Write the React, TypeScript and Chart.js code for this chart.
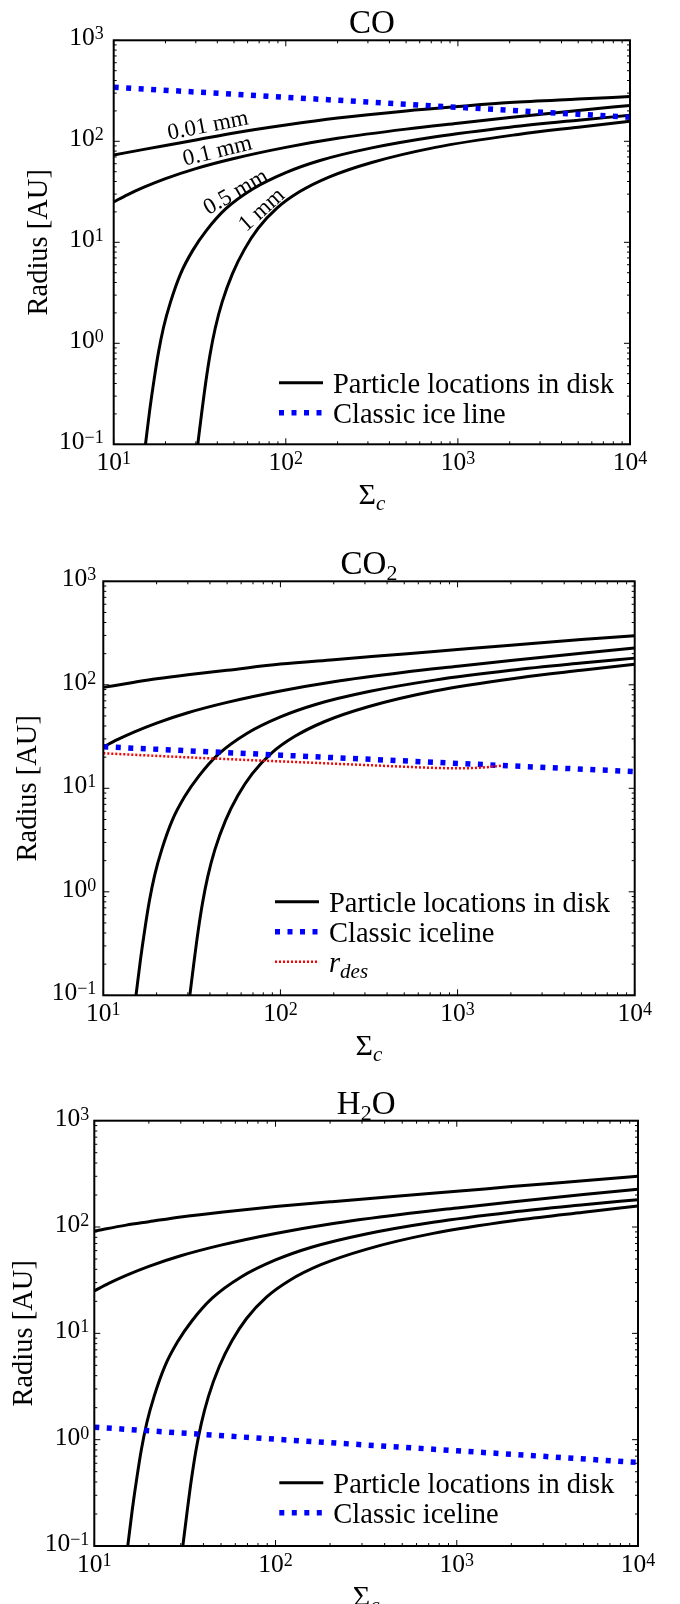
import React, { useEffect, useRef } from "react";
import { Chart, registerables } from "chart.js";

Chart.register(...registerables);

const SERIF = '"Liberation Serif", "Times New Roman", "DejaVu Serif", serif';
const BLUE = "#0000ff";
const RED = "#ff0000";

// ---- particle locations (radius in AU) versus surface density Σc ----
// 0.01 mm grains
const sigmaSmallest = [10, 15, 20, 30, 50, 100, 200, 500, 1000, 2000, 5000, 10000];
const radius001mmCO = [73.1, 83.2, 91.0, 103, 121, 145, 170, 200, 221, 242, 262, 277];
const radius001mmCO2 = [94.4, 105.9, 114.3, 125, 138, 158.5, 175, 198.6, 218.8, 241, 273.5, 297.9];
const radius001mmH2O = [91.6, 104.2, 112.2, 124.5, 138, 155.6, 172.6, 197.2, 216.8, 239.9, 272.3, 299.9];

// 0.1 mm grains
const sigma01mm = [10, 12, 15, 20, 30, 50, 100, 200, 500, 1000, 2000, 5000, 10000];
const radius01mm = [25.1, 29.5, 35.1, 42.7, 53.7, 67.6, 87.1, 107, 132, 151, 172, 202, 226.5];

// 0.5 mm grains
const sigma05mm = [15.3, 16.2, 17.2, 18.2, 19.5, 21.4, 24.5, 28.8, 34.7, 44.7, 64.6, 100, 158, 316, 741, 2000, 5010, 10000];
const radius05mm = [0.1, 0.219, 0.447, 0.813, 1.45, 2.57, 4.9, 8.32, 13.2, 21.4, 33.9, 49.0, 64.6, 86.1, 111, 138, 162, 181];

// 1 mm grains
const sigma1mm = [30.8, 32.4, 34.3, 36.3, 38.9, 42.7, 49.0, 57.5, 69.2, 89.1, 120, 178, 316, 741, 2240, 5010, 10000];
const radius1mm = [0.1, 0.2, 0.417, 0.776, 1.41, 2.57, 4.9, 8.51, 13.8, 21.9, 31.6, 44.2, 61.7, 87.1, 117, 138, 158];

// classic ice lines
const sigmaIce = [10, 100, 1000, 10000];
const iceLineCO = [343, 273, 217, 173];
const iceLineCO2 = [25.2, 20.9, 17.4, 14.5];
const iceLineH2O = [1.31, 1.01, 0.787, 0.61];

// desorption radius for CO2
const sigmaDes = [10, 30, 100, 300, 700, 1000, 1400, 1800];
const rDesCO2 = [21.8, 19.9, 18.2, 16.8, 15.8, 15.6, 15.9, 16.6];

// axes
const xTickValues = [10, 100, 1000, 10000];
const xTickExponents = ["1", "2", "3", "4"];
const yTickValues = [0.1, 1, 10, 100, 1000];
const yTickExponents = ["\u22121", "0", "1", "2", "3"];
const sizeLabels = ["0.01 mm", "0.1 mm", "0.5 mm", "1 mm"];

type Seg = { t: string; sub?: boolean; sup?: boolean; italic?: boolean };
type LegendRow = { kind: "solid" | "ice" | "des"; label: Seg[] };

type Panel = {
  key: string;
  top: number;
  height: number;
  pad: { left: number; top: number; right: number; bottom: number };
  title: Seg[];
  smallest: number[];
  ice: number[];
  des?: number[];
  legend: LegendRow[];
  legendX: number;
  legendY: number;
  yTickGap: number;
  yTitleX: number;
  sizeTags: boolean;
};

const panels: Panel[] = [
  {
    key: "co",
    top: 0,
    height: 520,
    pad: { left: 113.7, top: 40.3, right: 50, bottom: 75.7 },
    title: [{ t: "CO" }],
    smallest: radius001mmCO,
    ice: iceLineCO,
    legend: [
      { kind: "solid", label: [{ t: "Particle locations in disk" }] },
      { kind: "ice", label: [{ t: "Classic ice line" }] },
    ],
    legendX: 333,
    legendY: 382.7,
    yTickGap: 10,
    yTitleX: 47,
    sizeTags: true,
  },
  {
    key: "co2",
    top: 520,
    height: 545,
    pad: { left: 103.3, top: 61.3, right: 45.3, bottom: 69.7 },
    title: [{ t: "CO" }, { t: "2", sub: true }],
    smallest: radius001mmCO2,
    ice: iceLineCO2,
    des: rDesCO2,
    legend: [
      { kind: "solid", label: [{ t: "Particle locations in disk" }] },
      { kind: "ice", label: [{ t: "Classic iceline" }] },
      { kind: "des", label: [{ t: "r", italic: true }, { t: "des", sub: true, italic: true }] },
    ],
    legendX: 329,
    legendY: 381.7,
    yTickGap: 7,
    yTitleX: 36,
    sizeTags: false,
  },
  {
    key: "h2o",
    top: 1065,
    height: 539,
    pad: { left: 94.3, top: 55.7, right: 42, bottom: 58 },
    title: [{ t: "H" }, { t: "2", sub: true }, { t: "O" }],
    smallest: radius001mmH2O,
    ice: iceLineH2O,
    legend: [
      { kind: "solid", label: [{ t: "Particle locations in disk" }] },
      { kind: "ice", label: [{ t: "Classic iceline" }] },
    ],
    legendX: 333.3,
    legendY: 417.7,
    yTickGap: 5,
    yTitleX: 32,
    sizeTags: false,
  },
];

// where the grain-size tags sit on the CO panel (page pixels, rotation in degrees)
const sizeTagSpots = [
  { x: 208, y: 126, angle: -11 },
  { x: 217.5, y: 151.5, angle: -14 },
  { x: 236, y: 192.5, angle: -30 },
  { x: 262, y: 210, angle: -42 },
];

function segFont(seg: Seg, size: number, small: number) {
  const px = seg.sub || seg.sup ? small : size;
  return `${seg.italic ? "italic " : ""}${px}px ${SERIF}`;
}

function drawSegs(
  ctx: CanvasRenderingContext2D,
  segs: Seg[],
  x: number,
  y: number,
  size: number,
  small: number,
  shift: { sub: number; sup: number },
  align: "left" | "center" | "right"
) {
  ctx.textBaseline = "alphabetic";
  ctx.textAlign = "left";
  const widths = segs.map((s) => {
    ctx.font = segFont(s, size, small);
    return ctx.measureText(s.t).width;
  });
  const total = widths.reduce((a, b) => a + b, 0);
  let cx = align === "center" ? x - total / 2 : align === "right" ? x - total : x;
  segs.forEach((s, i) => {
    ctx.font = segFont(s, size, small);
    const dy = s.sub ? shift.sub : s.sup ? -shift.sup : 0;
    ctx.fillText(s.t, cx, y + dy);
    cx += widths[i];
  });
}

function pts(xs: number[], ys: number[]) {
  return xs.map((x, i) => ({ x, y: ys[i] }));
}

function decorations(panel: Panel) {
  return {
    id: "decor-" + panel.key,
    afterDatasetsDraw(chart: any) {
      const ctx: CanvasRenderingContext2D = chart.ctx;
      const { left, right, top, bottom } = chart.chartArea;
      const xs = chart.scales.x;
      const ys = chart.scales.y;
      ctx.save();
      ctx.fillStyle = "#000";
      ctx.strokeStyle = "#000";

      // inward major/minor ticks on all four sides
      ctx.lineWidth = 1;
      ctx.beginPath();
      xTickValues.forEach((v, i) => {
        const marks = [{ v, len: 6 }];
        if (i < xTickValues.length - 1) for (let m = 2; m <= 9; m++) marks.push({ v: v * m, len: 3 });
        marks.forEach(({ v: mv, len }) => {
          const px = xs.getPixelForValue(mv);
          ctx.moveTo(px, bottom);
          ctx.lineTo(px, bottom - len);
          ctx.moveTo(px, top);
          ctx.lineTo(px, top + len);
        });
      });
      yTickValues.forEach((v, i) => {
        const marks = [{ v, len: 6 }];
        if (i < yTickValues.length - 1) for (let m = 2; m <= 9; m++) marks.push({ v: v * m, len: 3 });
        marks.forEach(({ v: mv, len }) => {
          const py = ys.getPixelForValue(mv);
          ctx.moveTo(left, py);
          ctx.lineTo(left + len, py);
          ctx.moveTo(right, py);
          ctx.lineTo(right - len, py);
        });
      });
      ctx.stroke();

      // frame
      ctx.lineWidth = 2;
      ctx.strokeRect(left, top, right - left, bottom - top);

      // tick labels 10^n
      const tickShift = { sub: 0, sup: 6 };
      xTickValues.forEach((v, i) => {
        drawSegs(ctx, [{ t: "10" }, { t: xTickExponents[i], sup: true }], xs.getPixelForValue(v), bottom + 25.5, 25.5, 18, tickShift, "center");
      });
      yTickValues.forEach((v, i) => {
        drawSegs(ctx, [{ t: "10" }, { t: yTickExponents[i], sup: true }], left - panel.yTickGap, ys.getPixelForValue(v) + 5, 25.5, 18, tickShift, "right");
      });

      // title
      drawSegs(ctx, panel.title, (left + right) / 2, top - 7, 33, 22, { sub: 6, sup: 0 }, "center");

      // x title Σc
      drawSegs(ctx, [{ t: "Σ" }, { t: "c", sub: true, italic: true }], (left + right) / 2, bottom + 60, 30, 21, { sub: 6, sup: 0 }, "center");

      // y title
      ctx.save();
      ctx.translate(panel.yTitleX, (top + bottom) / 2);
      ctx.rotate(-Math.PI / 2);
      ctx.font = `28.5px ${SERIF}`;
      ctx.textAlign = "center";
      ctx.textBaseline = "alphabetic";
      ctx.fillText("Radius [AU]", 0, 0);
      ctx.restore();

      // legend
      panel.legend.forEach((row, i) => {
        const cy = panel.legendY + i * 30;
        const x0 = panel.legendX - 54;
        const x1 = panel.legendX - 10;
        ctx.save();
        ctx.beginPath();
        ctx.lineCap = "butt";
        if (row.kind === "solid") {
          ctx.strokeStyle = "#000";
          ctx.lineWidth = 3;
        } else if (row.kind === "ice") {
          ctx.strokeStyle = BLUE;
          ctx.lineWidth = 5.5;
          ctx.setLineDash([5, 7.5]);
        } else {
          ctx.strokeStyle = RED;
          ctx.lineWidth = 2.5;
          ctx.setLineDash([2, 2]);
        }
        ctx.moveTo(x0, cy);
        ctx.lineTo(x1, cy);
        ctx.stroke();
        ctx.restore();
        drawSegs(ctx, row.label, panel.legendX, cy + 10.5, 28.5, 21, { sub: 6, sup: 0 }, "left");
      });

      // grain-size tags
      if (panel.sizeTags) {
        ctx.font = `23px ${SERIF}`;
        ctx.textAlign = "center";
        ctx.textBaseline = "middle";
        sizeLabels.forEach((label, i) => {
          const spot = sizeTagSpots[i];
          ctx.save();
          ctx.translate(spot.x, spot.y - panel.top);
          ctx.rotate((spot.angle * Math.PI) / 180);
          ctx.fillText(label, 0, 0);
          ctx.restore();
        });
      }
      ctx.restore();
    },
  };
}

function PanelChart({ panel }: { panel: Panel }) {
  const ref = useRef<HTMLCanvasElement | null>(null);

  useEffect(() => {
    const canvas = ref.current;
    if (!canvas) return;
    const solid = (data: { x: number; y: number }[]) => ({
      data,
      borderColor: "#000",
      borderWidth: 3,
      pointRadius: 0,
      fill: false,
      cubicInterpolationMode: "monotone" as const,
      clip: 0,
    });
    const datasets: any[] = [];
    if (panel.des) {
      datasets.push({
        data: pts(sigmaDes, panel.des),
        borderColor: RED,
        borderWidth: 2.5,
        borderDash: [2, 2],
        pointRadius: 0,
        fill: false,
        cubicInterpolationMode: "monotone",
        clip: 0,
      });
    }
    datasets.push({
      data: pts(sigmaIce, panel.ice),
      borderColor: BLUE,
      borderWidth: 5.5,
      borderDash: [5, 7.5],
      borderCapStyle: "butt",
      pointRadius: 0,
      fill: false,
      clip: 0,
    });
    datasets.push(solid(pts(sigmaSmallest, panel.smallest)));
    datasets.push(solid(pts(sigma01mm, radius01mm)));
    datasets.push(solid(pts(sigma05mm, radius05mm)));
    datasets.push(solid(pts(sigma1mm, radius1mm)));

    const chart = new Chart(canvas, {
      type: "line",
      data: { datasets },
      options: {
        responsive: false,
        animation: false,
        devicePixelRatio: 1,
        events: [],
        layout: { padding: panel.pad },
        plugins: {
          legend: { display: false },
          title: { display: false },
          tooltip: { enabled: false },
        },
        scales: {
          x: { type: "logarithmic", min: 10, max: 10000, display: false },
          y: { type: "logarithmic", min: 0.1, max: 1000, display: false },
        },
      },
      plugins: [decorations(panel)],
    } as any);
    return () => chart.destroy();
  }, [panel]);

  return (
    <canvas
      ref={ref}
      width={680}
      height={panel.height}
      style={{ position: "absolute", left: 0, top: panel.top, width: 680, height: panel.height }}
    />
  );
}

export default function App() {
  return (
    <div style={{ position: "absolute", left: 0, top: 0, width: 680, height: 1604, background: "#fff", overflow: "hidden" }}>
      {panels.map((p) => (
        <PanelChart key={p.key} panel={p} />
      ))}
    </div>
  );
}
